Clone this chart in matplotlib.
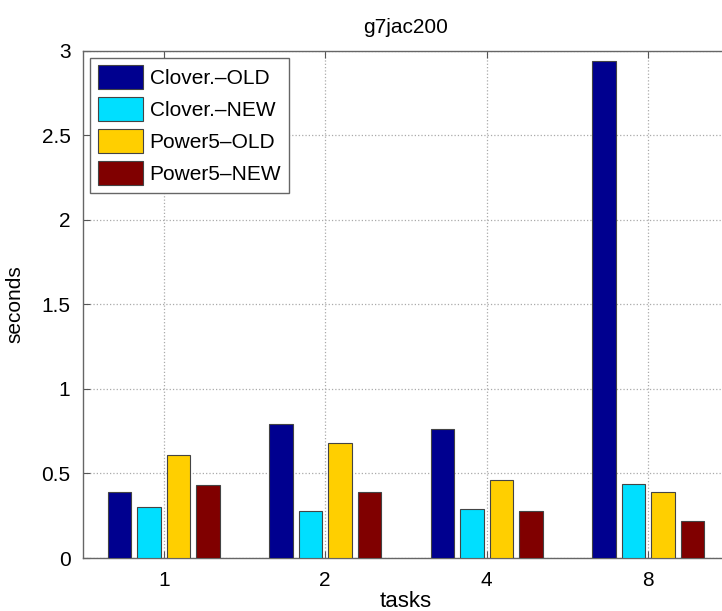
import matplotlib
matplotlib.use("Agg")
import matplotlib.pyplot as plt
import numpy as np

tasks = ["1", "2", "4", "8"]
series_names = ["Clover.\u2013OLD", "Clover.\u2013NEW", "Power5\u2013OLD", "Power5\u2013NEW"]
clover_old = [0.39, 0.79, 0.76, 2.94]
clover_new = [0.30, 0.28, 0.29, 0.44]
power5_old = [0.61, 0.68, 0.46, 0.39]
power5_new = [0.43, 0.39, 0.28, 0.22]
colors = ["#00008F", "#00DFFF", "#FFCF00", "#800000"]

plt.rcParams['font.family'] = ['Liberation Sans', 'DejaVu Sans']

fig = plt.figure(figsize=(7.22, 6.11), dpi=100)
ax = fig.add_axes([83/722, 1-558/611, 646/722, (558-50.7)/611])

x = np.arange(1, len(tasks)+1)
slot = 0.183
width = 0.145
data = [clover_old, clover_new, power5_old, power5_new]
for i, (vals, name, c) in enumerate(zip(data, series_names, colors)):
    ax.bar(x + (i-1.5)*slot, vals, width, color=c, edgecolor='#444444',
           linewidth=0.8, label=name, zorder=3)

ax.set_xlim(0.5, 4.5)
ax.set_ylim(0, 3)
ax.set_xticks(x)
ax.set_xticklabels(tasks)
ax.set_yticks([0, 0.5, 1, 1.5, 2, 2.5, 3])
ax.set_yticklabels(["0", "0.5", "1", "1.5", "2", "2.5", "3"])
ax.tick_params(direction='in', top=True, right=True, labelsize=15,
               length=5, color='#555555', pad=9)
ax.grid(True, linestyle=':', color='#AAAAAA', linewidth=0.9, zorder=0)
for s in ax.spines.values():
    s.set_color('#666666')
    s.set_linewidth(1.0)

ax.set_title("g7jac200", fontsize=15, pad=13)
ax.set_xlabel("tasks", fontsize=16, labelpad=1)
ax.set_ylabel("seconds", fontsize=15, labelpad=12)

leg = ax.legend(loc='upper left', fontsize=15, frameon=True, fancybox=False,
                edgecolor='#666666', framealpha=1, handlelength=2.2,
                handleheight=1.4, borderaxespad=0.35, labelspacing=0.38,
                handletextpad=0.3, borderpad=0.35)
leg.get_frame().set_linewidth(1.0)

fig.savefig("out.png", dpi=100, facecolor='white')
